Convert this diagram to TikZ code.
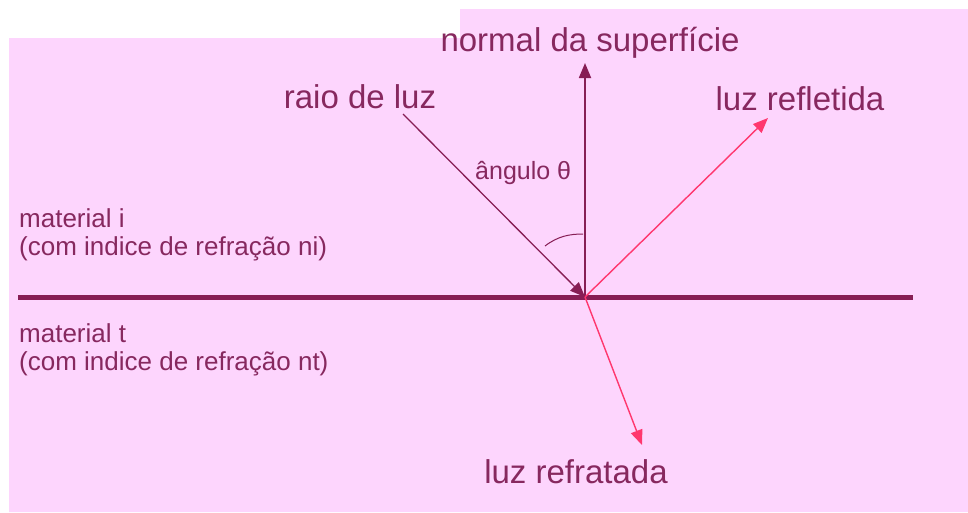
\documentclass[tikz,border=0pt]{standalone}
\usepackage{fontspec}
\setmainfont{Liberation Sans}
\usetikzlibrary{arrows.meta, positioning}

\definecolor{bgpink}{RGB}{253,213,253}
\definecolor{surfline}{RGB}{135,30,85}
\definecolor{labeltext}{RGB}{135,40,95}
\definecolor{raypink}{RGB}{255,55,110}

\begin{document}
\begin{tikzpicture}[x=1pt, y=-1pt, big/.style={
        text=labeltext,
        font=\fontsize{33}{38}\selectfont,
        inner sep=0pt
    }, small/.style={
        text=labeltext,
        font=\fontsize{26}{30}\selectfont,
        inner sep=0pt,
        anchor=west
    }, darkray/.style={
        surfline, -{Triangle[length=15pt, width=12pt]}
    }, lightray/.style={
        raypink, line width=1.4pt, -{Triangle[length=15pt, width=12pt]}
    }]
    \useasboundingbox (0,0) rectangle (968,512);
    \fill[bgpink] (9,38) -- (460,38) -- (460,9) -- (968,9) -- (968,512) -- (9,512) -- cycle;

    \node (normal) [big] at (590,43) {normal da superfície};
    \node (raio) [big] at (360,97) {raio de luz};
    \node (refletida) [big] at (800,99) {luz refletida};
    \node (refratada) [big] at (576,472) {luz refratada};
    \node (angulo) [small, font=\fontsize{25}{28}\selectfont] at (475,173) {ângulo θ};
    \node (mati) [small] at (19,218) {material i};
    \node (ni) [small] at (19,249) {(com indice de refração ni)};
    \node (matt) [small] at (19,333) {material t};
    \node (nt) [small] at (19,364) {(com indice de refração nt)};

    \coordinate (hit) at (585,297);
    \coordinate (surfL) at (18,297);
    \coordinate (surfR) at (913,297);
    \coordinate (normaltop) at (585,63);
    \coordinate (src) at (403,114);
    \coordinate (refl) at (768,118);
    \coordinate (refr) at (642,445);

    \draw [surfline, line width=5pt] (surfL) -- (surfR);
    \draw [darkray, line width=1.8pt] (hit) -- (normaltop);
    \draw [darkray, line width=1.3pt] (src) -- (hit);
    \draw [lightray] (hit) -- (refl);
    \draw [lightray] (hit) -- (refr);
    \draw [surfline, line width=1pt] (545,246) .. controls (558,236) and (570,234) .. (583,234);

\end{tikzpicture}
\end{document}
